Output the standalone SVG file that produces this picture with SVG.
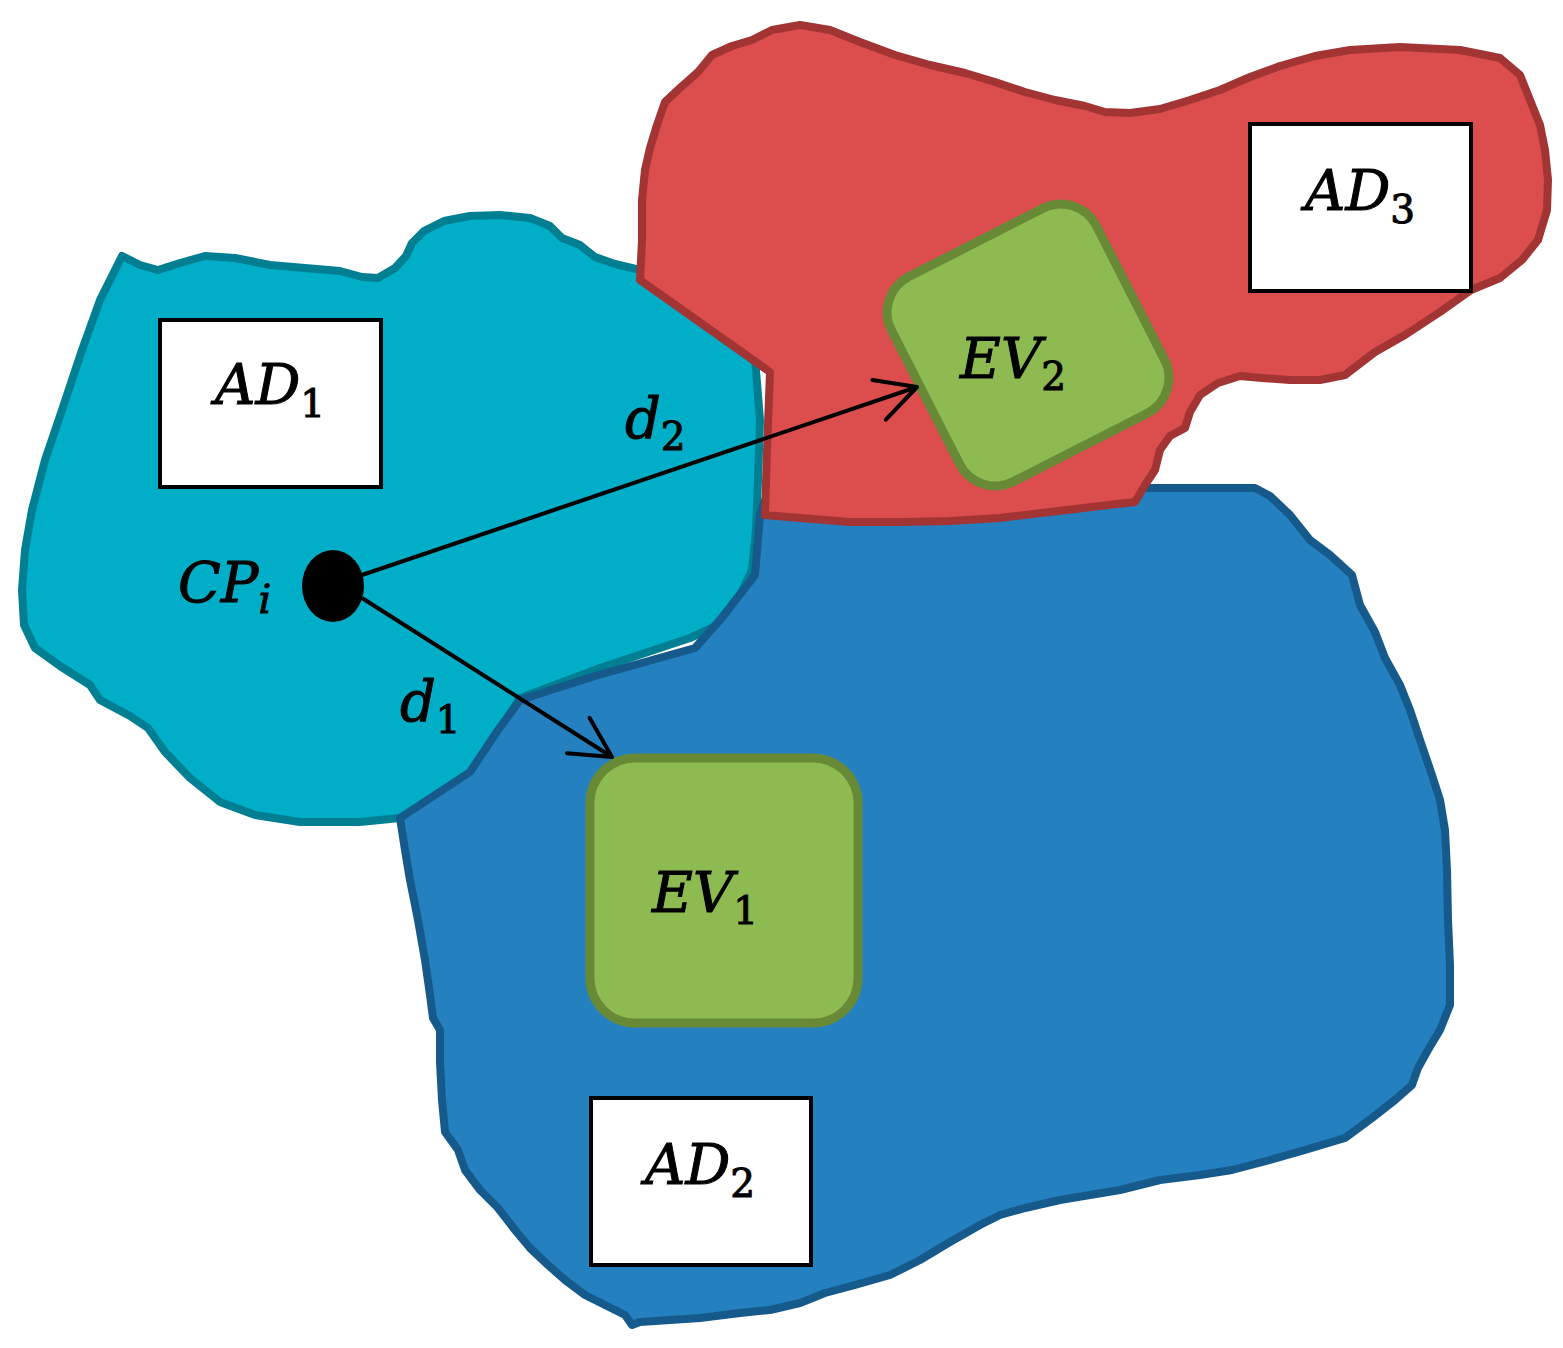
<svg xmlns="http://www.w3.org/2000/svg" width="1563" height="1348" viewBox="0 0 1563 1348">
<style>
.region{stroke-width:8;stroke-linejoin:round}
.cyan{fill:#00AEC7;stroke:#007F92}
.blue{fill:#2480BF;stroke:#165A8C}
.red{fill:#DC4E4E;stroke:#A33434}
.ev{fill:#8EBB51;stroke:#688A36;stroke-width:9}
.ad{fill:#fff;stroke:#000;stroke-width:4}
.lbl{font-family:"DejaVu Serif","Liberation Serif",serif;font-style:italic;font-size:56px;fill:#000;stroke:#000;stroke-width:1}
.sub{font-style:normal;font-size:39px}
.subi{font-size:40px}
.conn{stroke:#000;stroke-width:4;fill:none}
</style>
<defs>
<marker id="arr" markerUnits="userSpaceOnUse" markerWidth="60" markerHeight="60" viewBox="-50 -30 60 60" refX="0" refY="0" orient="auto" overflow="visible">
<path d="M-40,-21 L0,0 L-40,21" fill="none" stroke="#000" stroke-width="4" stroke-linecap="round" stroke-linejoin="round"/>
</marker>
</defs>
<g id="region-ad1">
<path class="region cyan" d="M122,256 L140,265 L158,270 L180,263 L205,256 L235,258 L270,265 L305,268 L340,271 L362,277 L378,278 L395,268 L406,256 L412,243 L424,231 L444,221 L470,216 L500,215 L530,218 L550,226 L562,238 L580,245 L595,257 L615,264 L640,270 L700,310 L755,358 L760,420 L758,480 L756,530 L752,570 L738,600 L718,625 L690,638 L600,668 L520,698 L500,730 L480,765 L440,795 L400,818 L360,822 L300,822 L255,815 L220,802 L190,778 L165,752 L148,728 L130,716 L100,700 L90,685 L60,666 L35,648 L24,625 L22,590 L25,550 L32,510 L45,460 L62,410 L82,350 L100,300 Z"/>
</g>
<g id="region-ad2">
<path class="region blue" d="M400,818 L470,772 L498,730 L520,700 L595,676 L695,648 L720,620 L755,575 L760,515 L765,500 L1140,488 L1255,488 L1270,496 L1290,515 L1310,540 L1330,555 L1352,575 L1360,605 L1375,632 L1385,658 L1400,685 L1410,710 L1420,740 L1432,775 L1440,800 L1445,830 L1447,870 L1448,920 L1450,965 L1450,1005 L1440,1030 L1428,1050 L1418,1068 L1412,1085 L1395,1100 L1372,1118 L1345,1138 L1305,1150 L1270,1160 L1232,1170 L1200,1175 L1160,1180 L1120,1190 L1090,1195 L1060,1200 L1025,1208 L1000,1215 L980,1225 L950,1242 L920,1260 L890,1275 L855,1285 L825,1293 L800,1303 L770,1310 L740,1313 L700,1318 L670,1320 L640,1322 L632,1325 L625,1315 L605,1305 L585,1295 L565,1280 L548,1265 L530,1248 L515,1230 L498,1208 L480,1190 L465,1170 L458,1150 L445,1132 L442,1100 L440,1062 L440,1030 L433,1018 L430,995 L425,960 L418,920 L410,880 L405,850 Z"/>
</g>
<g id="region-ad3">
<path class="region red" d="M640,280 L642,240 L642,200 L645,170 L650,148 L657,125 L665,102 L680,88 L698,72 L712,55 L732,46 L752,40 L772,30 L800,25 L830,30 L860,42 L895,55 L930,65 L965,73 L995,82 L1025,92 L1055,100 L1085,106 L1105,112 L1130,113 L1160,109 L1190,100 L1220,90 L1250,77 L1280,66 L1315,56 L1350,50 L1400,47 L1460,50 L1500,58 L1520,75 L1530,100 L1540,125 L1545,150 L1548,180 L1547,210 L1538,240 L1522,260 L1500,278 L1471,290 L1440,312 L1405,335 L1375,352 L1345,375 L1320,380 L1290,380 L1262,378 L1240,376 L1218,383 L1200,395 L1190,412 L1185,428 L1170,436 L1160,450 L1155,470 L1145,485 L1135,502 L1100,506 L1050,512 L1000,518 L950,521 L900,522 L850,522 L800,518 L765,515 L767,450 L770,372 Z"/>
</g>
<g id="ev1">
<rect class="ev" x="590" y="758" width="268" height="265" rx="45"/>
<text class="lbl" x="652" y="912">EV<tspan class="sub" dy="12">1</tspan></text>
</g>
<g id="ev2">
<rect class="ev" x="913" y="230" width="230" height="230" rx="40" transform="rotate(-27 1028 345)"/>
<text class="lbl" x="960" y="378">EV<tspan class="sub" dy="12">2</tspan></text>
</g>
<g id="ad1">
<rect class="ad" x="160" y="320" width="221" height="167"/>
<text class="lbl" x="215" y="404">AD<tspan class="sub" dy="13">1</tspan></text>
</g>
<g id="ad2">
<rect class="ad" x="591" y="1098" width="220" height="167"/>
<text class="lbl" x="645" y="1184">AD<tspan class="sub" dy="13">2</tspan></text>
</g>
<g id="ad3">
<rect class="ad" x="1250" y="124" width="221" height="167"/>
<text class="lbl" x="1305" y="210">AD<tspan class="sub" dy="13">3</tspan></text>
</g>
<g id="cp">
<ellipse cx="333" cy="586" rx="31" ry="36" fill="#000"/>
<text class="lbl" x="178" y="602">CP<tspan class="subi" dy="11">i</tspan></text>
</g>
<g id="connectors">
<line class="conn" x1="362" y1="575" x2="917" y2="387" marker-end="url(#arr)"/>
<line class="conn" x1="362" y1="598" x2="612" y2="757" marker-end="url(#arr)"/>
<text class="lbl" x="625" y="438">d<tspan class="sub" dy="12">2</tspan></text>
<text class="lbl" x="400" y="721">d<tspan class="sub" dy="12">1</tspan></text>
</g>
</svg>
